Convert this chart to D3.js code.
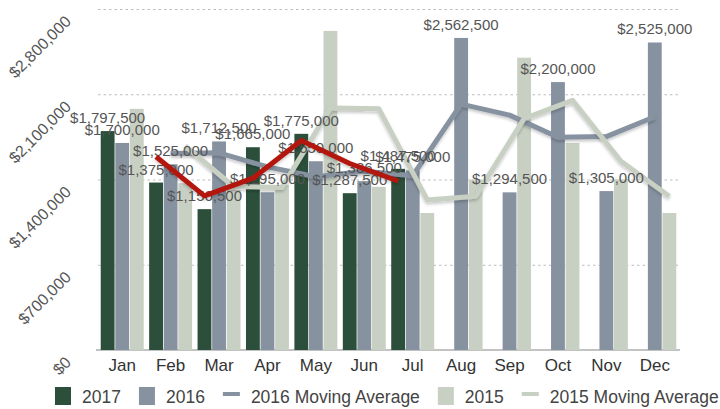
<!DOCTYPE html>
<head>
    <style>
        body { margin: 0; background: #fff; }
        svg { font-family: "Liberation Sans", Arial, sans-serif; }
        .grid line { stroke: #bdbdbd; stroke-width: 1px; stroke-dasharray: 2.5,3; }
        .grid text { fill: #555; font-size: 16px; }
        .xaxis text { fill: #333; font-size: 17px; }
        .vlabel { fill: #555; font-size: 15px; text-anchor: middle; }
        path.ma { fill: none; stroke-width: 5px; stroke-linejoin: round; }
        .legend text { fill: #444; font-size: 17.5px; }
    </style>
</head>
<body>
    <script src="https://d3js.org/d3.v7.min.js"></script>
    <script>
        var months = ['Jan', 'Feb', 'Mar', 'Apr', 'May', 'Jun',
                      'Jul', 'Aug', 'Sep', 'Oct', 'Nov', 'Dec'];
        var series = ['2017', '2016', '2015'];
        var sales2017 = [1797500, 1375000, 1156500, 1665000, 1775000, 1287500, 1487500];
        var sales2016 = [1700000, 1525000, 1712500, 1295000, 1550000, 1386500,
                         1475000, 2562500, 1294500, 2200000, 1305000, 2525000];
        var sales2015 = [1980000, 1370000, 1315000, 1355000, 2620000, 1340000,
                         1125000, 1400000, 2400000, 1700000, 1400000, 1125000];
        // two month moving averages, as drawn
        var avg2017 = [null, 1586250, 1265750, 1410750, 1720000, 1531250, 1387500];
        var avg2016 = [null, 1612500, 1618750, 1503750, 1422500, 1468250,
                       1430750, 2018750, 1928500, 1747250, 1752500, 1915000];
        var avg2015 = [null, 1675000, 1342500, 1335000, 1987500, 1980000,
                       1232500, 1262500, 1900000, 2050000, 1550000, 1262500];
        var yTicks = [0, 700000, 1400000, 2100000, 2800000];

        var colors = {'2017': '#2b4f3a', '2016': '#8792a1', '2015': '#c8d0c3',
                      'red': '#b3150f'};

        var dim = {'w': 720, 'h': 409,
                   margin: {'left': 98, 'right': 41, 'top': 9, 'bottom': 59}};
        var plotW = dim.w - dim.margin.left - dim.margin.right;
        var plotH = dim.h - dim.margin.top - dim.margin.bottom;

        var svg = d3.select('body')
                    .append('svg')
                    .attr('width', dim.w)
                    .attr('height', dim.h);

        var defs = svg.append('defs');
        defs.append('filter')
            .attr('id', 'shadow')
            .attr('x', '-10%').attr('y', '-20%')
            .attr('width', '120%').attr('height', '150%')
            .append('feDropShadow')
            .attr('dx', 0).attr('dy', 2)
            .attr('stdDeviation', 1.5)
            .attr('flood-color', '#000')
            .attr('flood-opacity', 0.22);

        var g = svg.append('g')
                   .attr('transform', 'translate(' + dim.margin.left + ',' + dim.margin.top + ')');

        var x0 = d3.scaleBand()
                   .domain(months)
                   .range([0, plotW]);
        var x1 = d3.scaleBand()
                   .domain(series)
                   .range([2, x0.bandwidth() - 2])
                   .padding(0.05);
        var y = d3.scaleLinear()
                  .domain([0, 2800000])
                  .range([plotH, 0]);

        function cx(i, s) {
            return x0(months[i]) + x1(s) + x1.bandwidth() / 2;
        }

        // grid + rotated y labels
        var yAxis = g.append('g')
                     .attr('class', 'grid')
                     .call(d3.axisLeft(y)
                             .tickValues(yTicks)
                             .tickSize(-plotW)
                             .tickFormat(d => '$' + d3.format(',')(d)));
        yAxis.select('.domain').remove();
        yAxis.selectAll('text')
             .attr('x', null)
             .attr('dy', null)
             .attr('text-anchor', 'end')
             .attr('transform', 'translate(-26,13) rotate(-45)');

        // baseline
        g.append('line')
         .attr('x1', -2).attr('x2', plotW + 1)
         .attr('y1', plotH).attr('y2', plotH)
         .attr('stroke', '#c3c3c3')
         .attr('stroke-width', 2);

        var xAxis = g.append('g')
                     .attr('class', 'xaxis')
                     .attr('transform', 'translate(0,' + plotH + ')')
                     .call(d3.axisBottom(x0).tickSize(0).tickPadding(9));
        xAxis.select('.domain').remove();

        var data = {'2017': sales2017, '2016': sales2016, '2015': sales2015};

        series.forEach(function(s) {
            g.selectAll('rect.b' + s)
             .data(data[s])
             .enter()
             .append('rect')
             .attr('class', 'b' + s)
             .attr('x', (d, i) => x0(months[i]) + x1(s))
             .attr('y', d => y(d))
             .attr('width', x1.bandwidth())
             .attr('height', d => plotH - y(d))
             .attr('fill', colors[s]);
        });

        function drawAvg(vals, s, color) {
            var line = d3.line()
                         .defined(d => d != null)
                         .x((d, i) => cx(i, s))
                         .y(d => y(d));
            g.append('path')
             .datum(vals)
             .attr('class', 'ma')
             .attr('stroke', color)
             .attr('filter', 'url(#shadow)')
             .attr('d', line);
        }

        drawAvg(avg2016, '2016', colors['2016']);
        drawAvg(avg2015, '2015', colors['2015']);

        // value labels for 2017 and 2016, month by month
        months.forEach(function(m, i) {
            ['2017', '2016'].forEach(function(s) {
                var v = data[s][i];
                if (v == null) return;
                g.append('text')
                 .attr('class', 'vlabel')
                 .attr('x', cx(i, s))
                 .attr('y', y(v) - 8)
                 .text('$' + d3.format(',')(v));
            });
        });

        drawAvg(avg2017, '2017', colors.red);

        // legend
        var legendItems = [
            {name: '2017', color: colors['2017'], type: 'box'},
            {name: '2016', color: colors['2016'], type: 'box'},
            {name: '2016 Moving Average', color: colors['2016'], type: 'line'},
            {name: '2015', color: colors['2015'], type: 'box'},
            {name: '2015 Moving Average', color: colors['2015'], type: 'line'}
        ];
        var legend = svg.append('g').attr('class', 'legend');
        var lx = 55;
        legendItems.forEach(function(it) {
            if (it.type == 'box') {
                legend.append('rect')
                      .attr('x', lx).attr('y', 387)
                      .attr('width', 16).attr('height', 18)
                      .attr('fill', it.color);
                lx += 16 + 11;
            } else {
                legend.append('rect')
                      .attr('x', lx).attr('y', 392)
                      .attr('width', 17).attr('height', 4)
                      .attr('fill', it.color);
                lx += 17 + 11;
            }
            var t = legend.append('text')
                          .attr('x', lx)
                          .attr('y', 403)
                          .text(it.name);
            lx += t.node().getComputedTextLength() + 18;
        });
    </script>
</body>
